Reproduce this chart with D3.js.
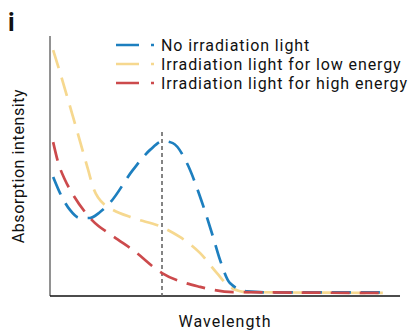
<!DOCTYPE html>
<html>
<head>
<meta charset="utf-8">
<script src="https://cdn.jsdelivr.net/npm/d3@7"></script>
<style>
  body { margin: 0; background: #fff; }
  text { font-family: Roboto, "Noto Sans", sans-serif; fill: #111; }
</style>
</head>
<body>
<svg id="chart" width="409" height="331"></svg>
<script>
// series (x and y in arbitrary units 0..100)
const noLightX = [0.9, 3.4, 5.7, 8.6, 11.4, 14.3, 17.1, 23.7, 28.6, 32.3, 35.1, 39.1, 42.9, 46.6, 48.6, 51.4, 56.3, 62.9, 95.1];
const noLightY = [45.8, 38.1, 33.1, 30, 30, 32.3, 35.8, 48.5, 56.2, 59.6, 58.8, 51.2, 38.1, 22.7, 13.8, 5, 1.8, 1.4, 1.4];

const lowX = [0.9, 2.9, 6.6, 10.9, 12.3, 15.7, 17.1, 23.7, 32, 37.1, 42.9, 47.7, 51.4, 56.3, 95.1];
const lowY = [94.6, 85.8, 68.8, 48.5, 41.9, 35, 33.8, 30, 26.5, 22.7, 16.5, 8.8, 3.5, 1.5, 1.2];

const highX = [0.9, 2.3, 4.3, 6.3, 10, 12, 18, 23.7, 32, 42.9, 52.3, 95.1];
const highY = [59.2, 51.5, 44.6, 39.6, 32.3, 29.2, 23, 17.7, 8.8, 3.5, 1.5, 1.2];

const seriesNames = ['No irradiation light', 'Irradiation light for low energy', 'Irradiation light for high energy'];
const seriesColors = ['#1d7fbf', '#f6d88f', '#cc4a4c'];
const peakX = 32;

let svg = d3.select('#chart');

const x = d3.scaleLinear().domain([0, 100]).range([50, 400]);
const y = d3.scaleLinear().domain([0, 100]).range([296, 36]);

// panel letter
svg.append('text').text('i').attr('x', 8).attr('y', 31)
    .style('font-size', '25px').style('font-weight', 'bold');

// axes (plain lines, no ticks)
svg.append('line').attr('x1', x(0)).attr('y1', y(0)).attr('x2', x(0)).attr('y2', y(100))
    .attr('stroke', '#777').attr('stroke-width', 1.6);
svg.append('line').attr('x1', x(0)).attr('y1', y(0)).attr('x2', x(100)).attr('y2', y(0))
    .attr('stroke', '#111').attr('stroke-width', 1.4);

// axis titles
svg.append('text').text('Wavelength').attr('x', 225).attr('y', 327)
    .attr('text-anchor', 'middle').style('font-size', '16px').style('letter-spacing', '1px');
svg.append('text').text('Absorption intensity')
    .attr('transform', 'translate(24,166) rotate(-90)')
    .attr('text-anchor', 'middle').style('font-size', '16px').style('letter-spacing', '0.6px');

// dashed marker at the peak
svg.append('line').attr('x1', x(peakX)).attr('y1', 132).attr('x2', x(peakX)).attr('y2', y(0))
    .attr('stroke', '#666').attr('stroke-width', 1.6).attr('stroke-dasharray', '4,3');

let line = d3.line().x(d => x(d[0])).y(d => y(d[1])).curve(d3.curveMonotoneX);

let series = [
    d3.zip(noLightX, noLightY),
    d3.zip(lowX, lowY),
    d3.zip(highX, highY)
];

// draw low energy first so blue and red sit on top like in the figure
[1, 0, 2].forEach(i => {
    svg.append('path').attr('d', line(series[i]))
        .attr('fill', 'none').attr('stroke', seriesColors[i])
        .attr('stroke-width', 2.7).attr('stroke-dasharray', '19,10');
});

// legend
let legend = svg.append('g');
seriesNames.forEach((name, i) => {
    let ly = 45 + i * 19;
    legend.append('line').attr('x1', 116).attr('y1', ly).attr('x2', 154).attr('y2', ly)
        .attr('stroke', seriesColors[i]).attr('stroke-width', 2.6)
        .attr('stroke-dasharray', '23,12,3,50');
    legend.append('text').text(name).attr('x', 161).attr('y', ly + 5.5)
        .style('font-size', '16px').style('letter-spacing', '0.9px');
});
</script>
</body>
</html>
